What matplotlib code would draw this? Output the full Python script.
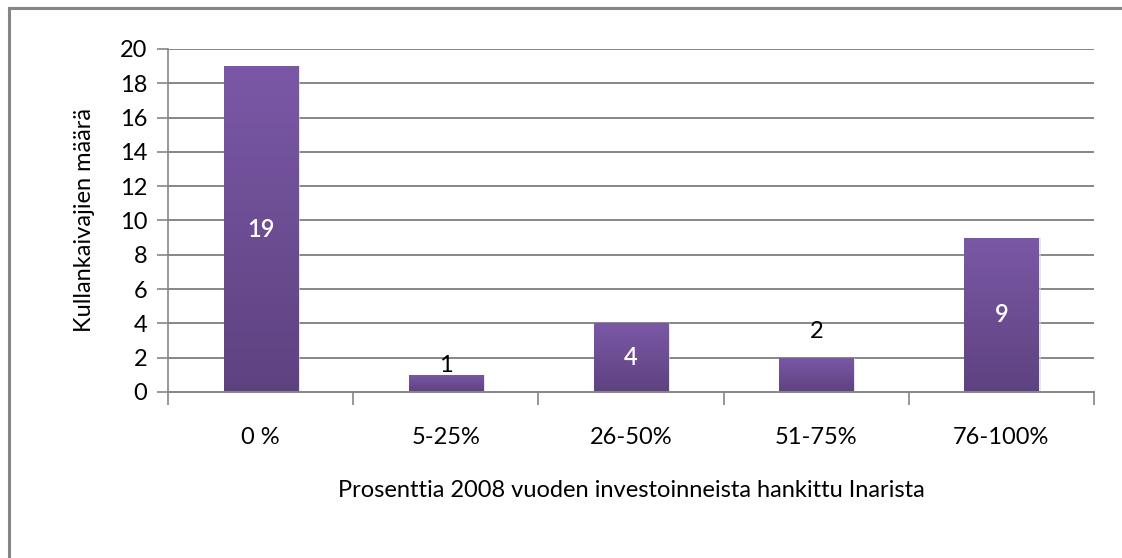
import matplotlib
matplotlib.use("Agg")
import matplotlib.pyplot as plt
import numpy as np
from matplotlib.patches import Rectangle
from matplotlib.colors import LinearSegmentedColormap

categories = ["0 %", "5-25%", "26-50%", "51-75%", "76-100%"]
values = [19, 1, 4, 2, 9]
yticks = [0, 2, 4, 6, 8, 10, 12, 14, 16, 18, 20]
xlabel = "Prosenttia 2008 vuoden investoinneista hankittu Inarista"
ylabel = "Kullankaivajien määrä"

plt.rcParams['font.family'] = ['Lato', 'DejaVu Sans']
FS = 17

fig = plt.figure(figsize=(11.22, 5.58), dpi=100)
fig.patch.set_facecolor("white")

# outer frame (left and top visible)
fig.add_artist(plt.Line2D([9/1122, 9/1122], [0, 1 - 8/558], transform=fig.transFigure,
                          color="#868686", lw=2.2))
fig.add_artist(plt.Line2D([9/1122, 1], [1 - 8/558, 1 - 8/558], transform=fig.transFigure,
                          color="#868686", lw=2.2))

ax = fig.add_axes([168/1122, 1 - 392/558, (1094 - 168)/1122, (392 - 49)/558])
ax.set_xlim(-0.5, len(categories) - 0.5)
ax.set_ylim(0, 20)

grid_c = "#868686"
for y in yticks[1:]:
    ax.axhline(y, color=grid_c, lw=1.4, zorder=0)

for s in ["top", "right"]:
    ax.spines[s].set_visible(False)
ax.spines["left"].set_color(grid_c)
ax.spines["bottom"].set_color(grid_c)
ax.spines["left"].set_linewidth(1.2)
ax.spines["bottom"].set_linewidth(1.4)

ax.set_yticks(yticks)
ax.set_yticklabels([str(t) for t in yticks], fontsize=FS, color="black")
ax.tick_params(axis="y", length=8, width=1.2, color=grid_c, pad=7)

# x ticks at category boundaries, labels at centers
ax.set_xticks(np.arange(-0.5, len(categories), 1.0))
ax.set_xticklabels([])
ax.set_xticks(np.arange(len(categories)), minor=True)
ax.set_xticklabels(categories, minor=True, fontsize=FS)
ax.tick_params(axis="x", which="major", length=9, width=1.2, color=grid_c, direction="out")
ax.tick_params(axis="x", which="minor", length=0, pad=25)

ax.set_xlabel(xlabel, fontsize=FS, labelpad=23)
ax.set_ylabel(ylabel, fontsize=FS, labelpad=18)

cmap = LinearSegmentedColormap.from_list("bar", ["#5E4280", "#7B58A6"])
grad = np.linspace(0, 1, 256).reshape(-1, 1)
bw = 0.4
for i, v in enumerate(values):
    # shadow
    ax.add_patch(Rectangle((i - bw/2 + 0.012, 0), bw, v, facecolor="#d8d8d8", edgecolor="none",
                           zorder=1, alpha=0.6))
    im = ax.imshow(grad, extent=[i - bw/2, i + bw/2, 0, v], origin="lower", cmap=cmap,
                   aspect="auto", zorder=2)
    rect = Rectangle((i - bw/2, 0), bw, v, transform=ax.transData, facecolor="none", edgecolor="none")
    ax.add_patch(rect)
    im.set_clip_path(rect)

ax.set_xlim(-0.5, len(categories) - 0.5)
ax.set_ylim(0, 20)

for i, v in enumerate(values):
    if v >= 4:
        ax.text(i, v / 2, str(v), ha="center", va="center", color="white", fontsize=FS,
                fontweight="semibold", zorder=3)
    else:
        off = 0.55 if v == 1 else 1.5
        ax.text(i, v + off, str(v), ha="center", va="center", color="black", fontsize=FS, zorder=3)

fig.savefig("out.png", dpi=100)
